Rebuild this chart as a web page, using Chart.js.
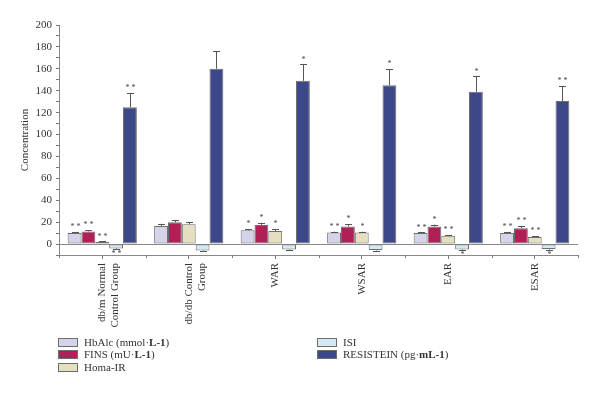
<!DOCTYPE html>
<html>
<head>
<meta charset="utf-8">
<script src="https://cdn.jsdelivr.net/npm/chart.js@4.4.0/dist/chart.umd.min.js"></script>
<style>
  html, body { margin: 0; padding: 0; background: #fff; }
  #wrap { position: relative; width: 600px; height: 394px; }
  #legend { position: absolute; left: 0; top: 0; width: 600px; height: 394px; pointer-events: none;
            font-family: "Liberation Serif", "DejaVu Serif", serif; font-size: 11px; color: #333; }
  .item { position: absolute; display: flex; align-items: center; white-space: nowrap; }
  .box { width: 18px; height: 7px; border: 1px solid #6e6e6e; margin-right: 6px; }
</style>
</head>
<body>
<div id="wrap">
  <canvas id="chart" width="600" height="394"></canvas>
  <div id="legend"></div>
</div>
<script>
// ==========================
// DATA
// ==========================
const categories = [["db/m Normal", "Control Group"], ["db/db Control", "Group"], "WAR", "WSAR", "EAR", "ESAR"];

const hba1c        = [10, 16.5, 12.5, 10.5, 10, 10];
const hba1cErr     = [1, 2, 1, 0.8, 0.6, 0.8];
const fins         = [11.5, 20, 17.5, 16, 16, 14.5];
const finsErr      = [1.2, 2, 2, 2, 1.8, 2];
const homa         = [2, 18, 12, 10.5, 7.5, 6.5];
const homaErr      = [0.4, 2, 1.5, 0.8, 0.6, 0.5];
const isi          = [-4, -6, -5, -5.5, -5, -4.5];
const isiErr       = [0.5, 0.4, 0.4, 0.4, 0.5, 0.5];
const resistein    = [125, 160, 149, 145, 139, 130.5];
const resisteinErr = [13, 16, 15, 14.5, 14, 13.5];

const hba1cStars     = ["**", "", "*", "**", "**", "**"];
const finsStars      = ["**", "", "*", "*", "*", "**"];
const homaStars      = ["**", "", "*", "*", "**", "**"];
const isiStars       = ["**", "", "", "", "*", "*"];
const resisteinStars = ["**", "", "*", "*", "*", "**"];

const yTicks = [0, 20, 40, 60, 80, 100, 120, 140, 160, 180, 200];

const FONT = '"Liberation Serif", "DejaVu Serif", serif';

const series = [
  { label: "HbAlc (mmol·<b>L-1</b>)", data: hba1c, err: hba1cErr, stars: hba1cStars, color: "#d3d3ea" },
  { label: "FINS (mU·<b>L-1</b>)", data: fins, err: finsErr, stars: finsStars, color: "#b01f55" },
  { label: "Homa-IR", data: homa, err: homaErr, stars: homaStars, color: "#e3dfbf" },
  { label: "ISI", data: isi, err: isiErr, stars: isiStars, color: "#d3e9f3" },
  { label: "RESISTEIN (pg·<b>mL-1</b>)", data: resistein, err: resisteinErr, stars: resisteinStars, color: "#3d4889" }
];

// ==========================
// ERROR BARS + STARS
// ==========================
const errorBars = {
  id: "errorBars",
  afterDatasetsDraw(chart) {
    const ctx = chart.ctx;
    const y = chart.scales.y;
    ctx.save();
    ctx.strokeStyle = "#555";
    ctx.lineWidth = 1;
    ctx.fillStyle = "#444";
    ctx.font = "8px " + FONT;
    ctx.textAlign = "center";
    series.forEach((s, di) => {
      const meta = chart.getDatasetMeta(di);
      meta.data.forEach((bar, i) => {
        const v = s.data[i];
        const x = Math.round(bar.x) + 0.5;
        let end;
        if (v >= 0) {
          end = y.getPixelForValue(v + s.err[i]);
        } else {
          end = y.getPixelForValue(v - s.err[i]);
        }
        ctx.beginPath();
        ctx.moveTo(x, bar.y);
        ctx.lineTo(x, end);
        ctx.moveTo(x - 3.5, Math.round(end) + 0.5);
        ctx.lineTo(x + 3.5, Math.round(end) + 0.5);
        ctx.stroke();
        const st = s.stars[i];
        if (st) {
          const t = st.split("").join(" ");
          if (v >= 0) {
            ctx.textBaseline = "bottom";
            ctx.fillText(t, x, end - 1);
          } else {
            ctx.textBaseline = "top";
            ctx.fillText(t, x, end + 1);
          }
        }
      });
    });
    // minor ticks between categories on the x axis
    const xs = chart.scales.x;
    const base = xs.top;
    ctx.strokeStyle = "#777";
    for (let i = 0; i <= categories.length; i++) {
      const px = Math.round(xs.getPixelForValue(i - 0.5)) + 0.5;
      ctx.beginPath();
      ctx.moveTo(px, base);
      ctx.lineTo(px, base + 3);
      ctx.stroke();
    }
    ctx.restore();
  }
};

// ==========================
// CHART
// ==========================
new Chart(document.getElementById("chart"), {
  type: "bar",
  data: {
    labels: categories,
    datasets: series.map(s => ({
      label: s.label,
      data: s.data,
      backgroundColor: s.color,
      borderColor: "#6e6e6e",
      borderWidth: 1,
      borderSkipped: false,
      categoryPercentage: 0.8,
      barPercentage: 1.0
    }))
  },
  options: {
    responsive: false,
    animation: false,
    layout: { padding: { left: 19, right: 22, top: 25, bottom: 0 } },
    plugins: {
      legend: { display: false },
      tooltip: { enabled: false }
    },
    scales: {
      x: {
        afterFit: scale => { scale.height = 139; },
        border: { color: "#888", width: 1 },
        grid: { offset: false, drawOnChartArea: false, tickLength: 4, color: "#777" },
        ticks: {
          color: "#333",
          font: { family: FONT, size: 11 },
          maxRotation: 90,
          minRotation: 90,
          padding: 4
        }
      },
      y: {
        min: -10,
        max: 200,
        afterFit: scale => { scale.width = 40; },
        afterBuildTicks: scale => {
          const t = [];
          for (let v = -10; v <= 200; v += 10) t.push({ value: v });
          scale.ticks = t;
        },
        border: { color: "#888", width: 1 },
        grid: {
          color: c => (c.tick && c.tick.value === 0 ? "#888" : "transparent"),
          tickColor: "#777",
          tickLength: 3
        },
        ticks: {
          autoSkip: false,
          color: "#333",
          font: { family: FONT, size: 11 },
          padding: 4,
          callback: v => (yTicks.includes(v) ? String(v) : "")
        },
        title: {
          display: true,
          text: "Concentration",
          color: "#333",
          font: { family: FONT, size: 11 },
          padding: { top: 0, bottom: 0 }
        }
      }
    }
  },
  plugins: [errorBars]
});

// ==========================
// LEGEND
// ==========================
const legendPos = [
  [58, 339], [58, 351], [58, 364], [317, 339], [317, 351]
];
const legend = document.getElementById("legend");
series.forEach((s, i) => {
  const d = document.createElement("div");
  d.className = "item";
  d.style.left = legendPos[i][0] + "px";
  d.style.top = (legendPos[i][1] - 3) + "px";
  d.innerHTML = '<span class="box" style="background:' + s.color + '"></span><span>' + s.label + "</span>";
  legend.appendChild(d);
});
</script>
</body>
</html>
